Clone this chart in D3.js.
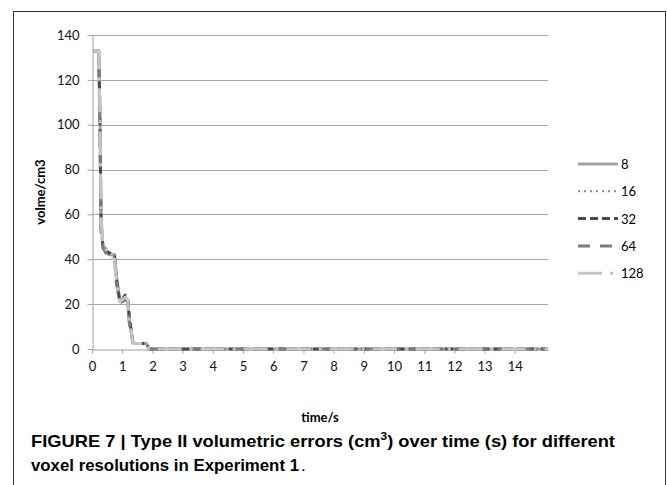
<!DOCTYPE html>
<html>
<head>
<meta charset="utf-8">
<script src="https://cdn.jsdelivr.net/npm/d3@7"></script>
<style>
  body { margin: 0; background: #fff; }
  svg { display: block; }
  .tick text { font-family: Lato, "Open Sans", sans-serif; font-size: 13px; fill: #111; }
</style>
</head>
<body>
<div id="chart"></div>
<script>
// time (s) at each read-off breakpoint
var times   = [0.04, 0.22, 0.26, 0.30, 0.36, 0.45, 0.55, 0.62, 0.75, 0.80, 0.92, 1.00, 1.10, 1.18, 1.24, 1.36, 1.55, 1.80, 1.90, 15.1];
// volume per voxel resolution
var vol8    = [133, 133, 110, 60, 46, 45, 42, 42, 42, 34, 22, 22, 22, 21, 12, 2.5, 2.5, 2.5, 0, 0];
var vol16   = [133, 133, 105, 58, 47, 45, 43, 43, 42, 33, 22, 22, 23, 22, 12, 2.5, 2.5, 2.0, 0, 0];
var vol32   = [133, 133, 106, 55, 46, 44, 43, 42, 41, 32, 21, 22, 24, 23, 14, 2.5, 2.5, 2.5, 0, 0];
var vol64   = [133, 133, 100, 52, 45, 43, 41, 40, 40, 30, 21, 21, 22, 21, 11, 2.5, 2.5, 2.0, 0, 0];
var vol128  = [133, 133, 108, 58, 47, 45, 42, 41, 40, 31, 21, 22, 23, 22, 12, 2.5, 2.5, 2.5, 0, 0];

var seriesNames = ["8", "16", "32", "64", "128"];
var xTicks = [0, 1, 2, 3, 4, 5, 6, 7, 8, 9, 10, 11, 12, 13, 14];
var yTicks = [0, 20, 40, 60, 80, 100, 120, 140];

var series = [
  {name: seriesNames[0], values: vol8,   color: "#a3a3a3", width: 3,   dash: null},
  {name: seriesNames[1], values: vol16,  color: "#8a8a8a", width: 2,   dash: "2 4"},
  {name: seriesNames[2], values: vol32,  color: "#4a4a4a", width: 3,   dash: "8 4"},
  {name: seriesNames[3], values: vol64,  color: "#7c7c7c", width: 3,   dash: "12 10"},
  {name: seriesNames[4], values: vol128, color: "#c6c6c6", width: 3,   dash: "24 8 3 8"}
];

var W = 667, H = 485;
var svg = d3.select("#chart").append("svg")
  .attr("width", W)
  .attr("height", H);

// figure frame
svg.append("rect")
  .attr("x", 13.5).attr("y", 11.5)
  .attr("width", 652).attr("height", 490)
  .attr("fill", "none")
  .attr("stroke", "#333")
  .attr("stroke-width", 1);

var x = d3.scaleLinear().domain([0, 15.1]).range([92, 548]);
var y = d3.scaleLinear().domain([0, 140]).range([349, 35]);

// horizontal gridlines
svg.append("g")
  .selectAll("line")
  .data(yTicks.filter(function(d) { return d > 0; }))
  .enter().append("line")
    .attr("x1", x(0)).attr("x2", x.range()[1])
    .attr("y1", function(d) { return Math.round(y(d)) + 0.5; })
    .attr("y2", function(d) { return Math.round(y(d)) + 0.5; })
    .attr("stroke", "#a8a8a8")
    .attr("stroke-width", 1);

// y axis
var yAxis = svg.append("g")
  .attr("transform", "translate(" + (x(0) + 0.5) + ",0)")
  .call(d3.axisLeft(y).tickValues(yTicks).tickSize(5).tickSizeOuter(0).tickPadding(8));
yAxis.select(".domain").attr("stroke", "#a0a0a0");
yAxis.selectAll(".tick line").attr("stroke", "#a0a0a0");

// x axis
var xAxis = svg.append("g")
  .attr("transform", "translate(0," + (y(0) + 0.5) + ")")
  .call(d3.axisBottom(x).tickValues(xTicks).tickSize(4).tickSizeOuter(0).tickPadding(8));
xAxis.select(".domain").attr("stroke", "#a0a0a0");
xAxis.selectAll(".tick line").attr("stroke", "#a0a0a0");

// axis titles
svg.append("text")
  .attr("transform", "translate(45," + ((y(0) + y(140)) / 2) + ") rotate(-90)")
  .attr("text-anchor", "middle")
  .style("font-family", "Lato, 'Open Sans', sans-serif")
  .style("font-size", "13px")
  .style("font-weight", "bold")
  .text("volme/cm3");

svg.append("text")
  .attr("x", (x.range()[0] + x.range()[1]) / 2)
  .attr("y", 422)
  .attr("text-anchor", "middle")
  .style("font-family", "Lato, 'Open Sans', sans-serif")
  .style("font-size", "13px")
  .style("font-weight", "bold")
  .text("time/s");

// lines
var line = d3.line()
  .x(function(d) { return x(d[0]); })
  .y(function(d) { return y(d[1]); });

series.forEach(function(s) {
  svg.append("path")
    .datum(times.map(function(t, i) { return [t, s.values[i]]; }))
    .attr("fill", "none")
    .attr("stroke", s.color)
    .attr("stroke-width", s.width)
    .attr("stroke-dasharray", s.dash)
    .attr("stroke-linejoin", "round")
    .attr("d", line);
});

// legend
var legend = svg.append("g").attr("transform", "translate(578,164)");
series.forEach(function(s, i) {
  var g = legend.append("g").attr("transform", "translate(0," + (i * 27.3) + ")");
  g.append("line")
    .attr("x1", 0).attr("x2", 40)
    .attr("y1", 0).attr("y2", 0)
    .attr("stroke", s.color)
    .attr("stroke-width", s.width)
    .attr("stroke-dasharray", s.dash);
  g.append("text")
    .attr("x", 43).attr("y", 5)
    .style("font-family", "Lato, 'Open Sans', sans-serif")
    .style("font-size", "13px")
    .text(s.name);
});

// caption
var cap1 = svg.append("text")
  .attr("x", 31).attr("y", 447)
  .attr("textLength", 584)
  .attr("lengthAdjust", "spacingAndGlyphs")
  .style("font-family", "'Liberation Sans', Arial, sans-serif")
  .style("font-size", "17px")
  .style("font-weight", "bold");
cap1.append("tspan").text("FIGURE 7 | Type II volumetric errors (cm");
cap1.append("tspan").attr("dy", -7).style("font-size", "11px").text("3");
cap1.append("tspan").attr("dy", 7).text(") over time (s) for different");

svg.append("text")
  .attr("x", 31).attr("y", 471)
  .attr("textLength", 268)
  .attr("lengthAdjust", "spacingAndGlyphs")
  .style("font-family", "'Liberation Sans', Arial, sans-serif")
  .style("font-size", "17px")
  .style("font-weight", "bold")
  .text("voxel resolutions in Experiment 1");

svg.append("text")
  .attr("x", 301).attr("y", 471)
  .style("font-family", "'Liberation Sans', Arial, sans-serif")
  .style("font-size", "17px")
  .text(".");
</script>
</body>
</html>
